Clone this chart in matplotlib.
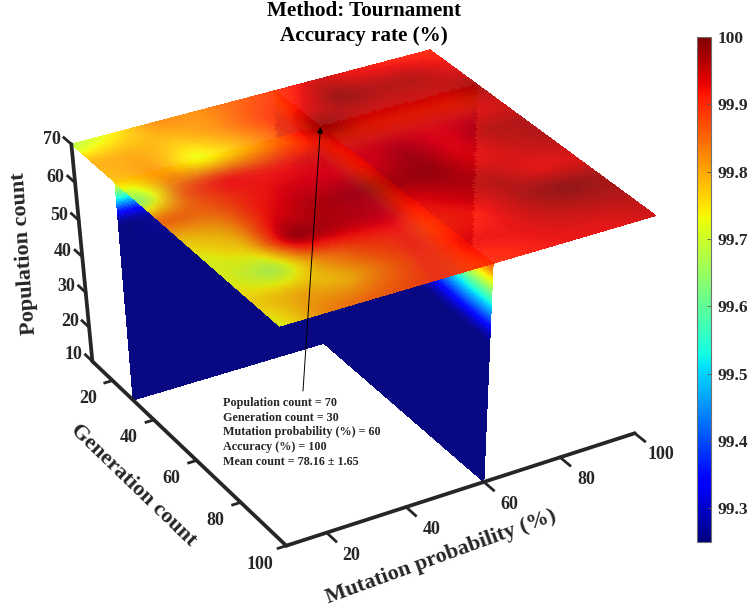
import numpy as np
import matplotlib
matplotlib.use('Agg')
import matplotlib.pyplot as plt
from matplotlib.cm import ScalarMappable
from matplotlib.colors import Normalize
from mpl_toolkits.mplot3d import proj3d

plt.rcParams['font.family'] = ['Liberation Serif', 'DejaVu Sans']
plt.rcParams['font.weight'] = 'bold'

mut = [10, 20, 30, 40, 50, 60, 70, 80, 90, 100]
gen = [10, 20, 30, 40, 50, 60, 70, 80, 90, 100]
pop = [10, 20, 30, 40, 50, 60, 70]
mut_ticks = [20, 40, 60, 80, 100]
gen_ticks = [20, 40, 60, 80, 100]
pop_ticks = [10, 20, 30, 40, 50, 60, 70]
cbar_ticks = [99.3, 99.4, 99.5, 99.6, 99.7, 99.8, 99.9, 100]

# accuracy at pop=70, rows gen, columns mut
top = [
    [99.67, 99.74, 99.83, 99.82, 99.86, 99.89, 99.95, 99.92, 99.91, 99.91],
    [99.80, 99.80, 99.78, 99.82, 99.88, 99.92, 99.99, 99.97, 99.97, 99.93],
    [99.78, 99.82, 99.71, 99.78, 99.86, 100.0, 99.95, 99.95, 99.95, 99.98],
    [99.62, 99.86, 99.92, 99.90, 99.93, 99.93, 99.93, 99.93, 99.93, 99.95],
    [99.86, 99.85, 99.90, 99.93, 99.93, 99.93, 99.97, 99.92, 99.97, 99.97],
    [99.76, 99.80, 99.92, 99.96, 99.97, 99.97, 99.98, 99.93, 99.95, 99.97],
    [99.72, 99.76, 99.99, 99.96, 99.95, 99.92, 99.95, 99.97, 99.93, 99.94],
    [99.73, 99.66, 99.82, 99.88, 99.90, 99.90, 99.92, 99.97, 100.0, 99.98],
    [99.76, 99.79, 99.77, 99.84, 99.90, 99.93, 99.93, 99.95, 99.96, 99.97],
    [99.72, 99.82, 99.85, 99.87, 99.90, 99.90, 99.92, 99.93, 99.93, 99.95],
]
low = 99.25
# slice gen=30, rows pop 10..60, columns mut
gen30_pop60 = [99.25, 99.27, 99.30, 99.30, 99.32, 99.40, 99.35, 99.35, 99.35, 99.35]
# slice mut=60, rows pop 10..60, columns gen
mut60_pop60 = [99.35, 99.35, 99.35, 99.35, 99.35, 99.35, 99.40, 99.52, 99.55, 99.55]

# camera matrix for the 3D axes, data to projected
CAM = np.array([
    [0.013939272, 0.008244409, -3.9112e-05, -1.216789875],
    [0.004067635, -0.006893204, 0.012863519, -0.372129542],
    [0.0, 0.0, 0.0, -10.0],
    [0.00612261, -0.009615101, -0.01463951, 12.577667422],
])

jet = plt.get_cmap('jet')
norm = Normalize(99.25, 100)
ALPHA_TOP = 0.91
ALPHA_SIDE = 0.97
N_TOP = 14
N_SIDE = 16


def fine(a, n):
    a = np.asarray(a, float)
    r = np.linspace(0, a.shape[0] - 1, (a.shape[0] - 1) * n + 1)
    c = np.linspace(0, a.shape[1] - 1, (a.shape[1] - 1) * n + 1)
    a = np.array([np.interp(c, np.arange(a.shape[1]), row) for row in a])
    a = np.array([np.interp(r, np.arange(a.shape[0]), col) for col in a.T]).T
    w = n // 2
    k = np.ones(w) / w
    for axis in (0, 1):
        p = np.pad(a, [(n, n) if i == axis else (0, 0) for i in (0, 1)], mode='edge')
        p = np.apply_along_axis(lambda v: np.convolve(v, k, mode='same'), axis, p)
        a = p[n:-n, :] if axis == 0 else p[:, n:-n]
    return a


def coords(a, n):
    a = np.asarray(a, float)
    return np.interp(np.linspace(0, len(a) - 1, (len(a) - 1) * n + 1), np.arange(len(a)), a)


def sheet(x, y, z, rgba, order):
    s = ax.plot_surface(x, y, z, facecolors=rgba, rstride=1, cstride=1,
                        shade=False, linewidth=0, antialiased=False, zorder=order)
    s.set_edgecolor('none')
    return s


def side(v):
    rgba = jet(norm(v))
    rgba[..., :3] = rgba[..., :3] * ALPHA_SIDE + (1 - ALPHA_SIDE)
    return rgba


def label(x, y, z, s):
    px, py, _ = proj3d.proj_transform(x, y, z, CAM)
    ax.text2D(px, py, s, transform=ax.transData, color=ink, fontsize=13,
              ha='center', va='center', zorder=7)


W, H = 748, 614
ink = '#262626'
fig = plt.figure(figsize=(W / 100, H / 100), dpi=100)
ax = fig.add_axes([43.5 / W, 9.7 / H, 615 / W, 615 / H], projection='3d')
ax.computed_zorder = False
ax.set_axis_off()
ax.set_xlim(10, 100, view_margin=0)
ax.set_ylim(100, 10, view_margin=0)
ax.set_zlim(10, 70, view_margin=0)
ax.get_proj = lambda: CAM
ax.M = CAM

mx, pz = np.meshgrid(coords(mut, N_SIDE), coords(pop, N_SIDE))
gy, pz2 = np.meshgrid(coords(gen, N_SIDE), coords(pop, N_SIDE))
gen30 = np.array([[low] * 10] * 5 + [gen30_pop60] + [top[2]])
mut60 = np.array([[low] * 10] * 5 + [mut60_pop60] + [[r[5] for r in top]])
g30 = fine(gen30, N_SIDE)
m60 = fine(mut60, N_SIDE)
split = 5 * N_SIDE  # index of mut=60 in the fine grid
gsplit = 2 * N_SIDE  # index of gen=30 in the fine grid

sheet(mx[:, split:], np.full_like(mx[:, split:], 30.0), pz[:, split:], side(g30[:, split:]), 1)
sheet(np.full_like(gy[:, :gsplit + 1], 60.0), gy[:, :gsplit + 1], pz2[:, :gsplit + 1], side(m60[:, :gsplit + 1]), 1)
sheet(mx[:, :split + 1], np.full_like(mx[:, :split + 1], 30.0), pz[:, :split + 1], side(g30[:, :split + 1]), 2)
sheet(np.full_like(gy[:, gsplit:], 60.0), gy[:, gsplit:], pz2[:, gsplit:], side(m60[:, gsplit:]), 3)

# top slice is see-through: blend it over what is already drawn below it
fig.canvas.draw()
under = np.asarray(fig.canvas.buffer_rgba())[..., :3] / 255.0
X, Y = np.meshgrid(coords(mut, N_TOP), coords(gen, N_TOP))
Xc = (X[:-1, :-1] + X[1:, 1:]) / 2
Yc = (Y[:-1, :-1] + Y[1:, 1:]) / 2
px, py, _ = proj3d.proj_transform(Xc.ravel(), Yc.ravel(), np.full(Xc.size, 70.0), CAM)
pix = ax.transData.transform(np.column_stack([px, py]))
ci = np.clip(pix[:, 0].astype(int), 0, W - 1)
ri = np.clip(H - 1 - pix[:, 1].astype(int), 0, H - 1)
behind = under[ri, ci].reshape(Xc.shape + (3,))
top_f = fine(top, N_TOP)
top_c = (top_f[:-1, :-1] + top_f[1:, 1:]) / 2
rgba = jet(norm(top_c))
rgba[..., :3] = rgba[..., :3] * ALPHA_TOP + behind * (1 - ALPHA_TOP)
sheet(X, Y, np.full_like(X, 70.0), rgba, 5)

ax.plot([10, 100], [100, 100], [10, 10], color=ink, lw=2.7, zorder=6, solid_capstyle='round')
ax.plot([10, 10], [10, 100], [10, 10], color=ink, lw=2.7, zorder=6, solid_capstyle='round')
ax.plot([10, 10], [10, 10], [10, 70], color=ink, lw=2.7, zorder=6, solid_capstyle='round')
for m in mut_ticks:
    ax.plot([m, m], [100, 104], [10, 10], color=ink, lw=2, zorder=6)
    label(m, 110.5, 10, str(m))
for g in gen_ticks:
    ax.plot([10, 8], [g, g], [10, 10], color=ink, lw=2, zorder=6)
    label(3.5, g, 7, str(g))
for p in pop_ticks:
    ax.plot([10, 10], [10, 6.5], [p, p], color=ink, lw=2, zorder=6)
    label(10, 0, p - 3.7, str(p))

tx, ty, _ = proj3d.proj_transform(60, 30, 70, CAM)
ax.annotate('', xy=(tx, ty), xycoords='data', xytext=(303, H - 391), textcoords='figure pixels',
            arrowprops=dict(arrowstyle='-|>', lw=0.7, color='black', shrinkA=0, shrinkB=0,
                            mutation_scale=9), zorder=8)

note = ['Population count = 70', 'Generation count = 30', 'Mutation probability (%) = 60',
        'Accuracy (%) = 100', 'Mean count = 78.16 \u00b1 1.65']
fig.text(223 / W, 1 - 397 / H, '\n'.join(note), fontsize=8.7, color=ink, va='top', ha='left',
         linespacing=1.3)

fig.text(364 / W, 1 - 11 / H, 'Method: Tournament', fontsize=15.2, ha='center', va='center', color='black')
fig.text(364 / W, 1 - 36 / H, 'Accuracy rate (%)', fontsize=15.2, ha='center', va='center', color='black')
fig.text(24.5 / W, 1 - 253 / H, 'Population count', fontsize=16, rotation=94, ha='center', va='center', color=ink)
fig.text(133 / W, 1 - 485 / H, 'Generation count', fontsize=16, rotation=-44, ha='center', va='center', color=ink)
fig.text(441 / W, 1 - 557 / H, 'Mutation probability (%)', fontsize=16, rotation=20, ha='center', va='center', color=ink)

cax = fig.add_axes([697 / W, 1 - 542 / H, 14 / W, 505 / H])
cb = fig.colorbar(ScalarMappable(norm=norm, cmap=jet), cax=cax, ticks=cbar_ticks)
cb.ax.set_yticklabels(['99.3', '99.4', '99.5', '99.6', '99.7', '99.8', '99.9', '100'])
cb.ax.tick_params(direction='in', length=3, width=0.6, labelsize=12.5, labelcolor=ink, pad=5, color='#555555')
cb.outline.set_edgecolor('#707070')
cb.outline.set_linewidth(0.8)

fig.savefig('out.png', dpi=100)
